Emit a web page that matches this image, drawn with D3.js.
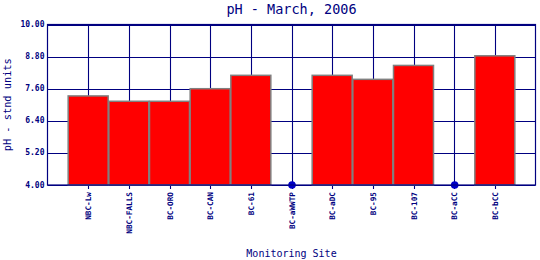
<!DOCTYPE html>
<html>
<head>
<meta charset="utf-8">
<script src="https://cdn.jsdelivr.net/npm/d3@7"></script>
<style>
  body { margin: 0; background: #fff; }
  text { font-family: "DejaVu Sans Mono", monospace; fill: #000080; }
</style>
</head>
<body>
<div id="chart"></div>
<script>
// chart data
var sites = ["NBC-Lw", "NBC-FALLS", "BC-ORO", "BC-CAN", "BC-61", "BC-aWWTP",
             "BC-aDC", "BC-95", "BC-107", "BC-aCC", "BC-bCC"];
var phValues = [7.33, 7.13, 7.13, 7.60, 8.10, null, 8.10, 7.95, 8.47, null, 8.83];
var yTicks = [4.0, 5.2, 6.4, 7.6, 8.8, 10.0];

var svgWidth = 540;
var svgHeight = 260;

var svg = d3.select("#chart")
  .append("svg")
  .attr("width", svgWidth)
  .attr("height", svgHeight);

// plot box (note: "top" is reserved on window, so use plot* names)
var plotLeft = 47.5, plotRight = 535.5, plotTop = 24.5, plotBottom = 185;

var xScale = d3.scaleLinear()
  .domain([0, sites.length + 1])
  .range([plotLeft, plotRight]);

var yScale = d3.scaleLinear()
  .domain([4, 10])
  .range([plotBottom, plotTop]);

var navy = "#000080";

// horizontal gridlines
svg.append("g")
  .selectAll("line")
  .data(yTicks)
  .enter()
  .append("line")
  .attr("x1", plotLeft)
  .attr("x2", plotRight)
  .attr("y1", d => Math.round(yScale(d)) + 0.5)
  .attr("y2", d => Math.round(yScale(d)) + 0.5)
  .attr("stroke", navy)
  .attr("stroke-width", 1.1);

// vertical gridlines + ticks
svg.append("g")
  .selectAll("line")
  .data(sites)
  .enter()
  .append("line")
  .attr("x1", (d, i) => Math.round(xScale(i + 1)) + 0.5)
  .attr("x2", (d, i) => Math.round(xScale(i + 1)) + 0.5)
  .attr("y1", plotTop)
  .attr("y2", plotBottom + 4)
  .attr("stroke", navy)
  .attr("stroke-width", 1.1);

// bars
svg.append("g")
  .selectAll("rect")
  .data(phValues.map((v, i) => ({ v: v, i: i })).filter(d => d.v !== null))
  .enter()
  .append("rect")
  .attr("x", d => xScale(d.i + 1) - 20)
  .attr("width", 40)
  .attr("y", d => yScale(d.v))
  .attr("height", d => plotBottom - yScale(d.v))
  .attr("fill", "#ff0000")
  .attr("stroke", "#808080")
  .attr("stroke-width", 1.5);

// missing values shown as dots on the baseline
svg.append("g")
  .selectAll("circle")
  .data(phValues.map((v, i) => ({ v: v, i: i })).filter(d => d.v === null))
  .enter()
  .append("circle")
  .attr("cx", d => xScale(d.i + 1) + 0.5)
  .attr("cy", plotBottom)
  .attr("r", 3.8)
  .attr("fill", "#0000c8");

// plot border
svg.append("rect")
  .attr("x", plotLeft)
  .attr("y", plotTop)
  .attr("width", plotRight - plotLeft)
  .attr("height", plotBottom - plotTop)
  .attr("fill", "none")
  .attr("stroke", navy)
  .attr("stroke-width", 1.2);

// y tick labels
svg.append("g")
  .selectAll("text")
  .data(yTicks)
  .enter()
  .append("text")
  .attr("x", plotLeft - 3)
  .attr("y", d => yScale(d) + 2.5)
  .attr("text-anchor", "end")
  .attr("font-size", "8px")
  .attr("font-weight", "bold")
  .text(d => d.toFixed(2));

// x tick labels (rotated)
svg.append("g")
  .selectAll("text")
  .data(sites)
  .enter()
  .append("text")
  .attr("transform", (d, i) => `translate(${xScale(i + 1) + 3}, 192) rotate(-90)`)
  .attr("text-anchor", "end")
  .attr("font-size", "7.7px")
  .attr("font-weight", "bold")
  .text(d => d);

// title
svg.append("text")
  .attr("x", (plotLeft + plotRight) / 2)
  .attr("y", 14)
  .attr("text-anchor", "middle")
  .attr("font-size", "13.5px")
  .text("pH - March, 2006");

// axis titles
svg.append("text")
  .attr("x", (plotLeft + plotRight) / 2)
  .attr("y", 257)
  .attr("text-anchor", "middle")
  .attr("font-size", "10px")
  .text("Monitoring Site");

svg.append("text")
  .attr("transform", `translate(11, ${(plotTop + plotBottom) / 2}) rotate(-90)`)
  .attr("text-anchor", "middle")
  .attr("font-size", "10.3px")
  .text("pH - stnd units");
</script>
</body>
</html>
